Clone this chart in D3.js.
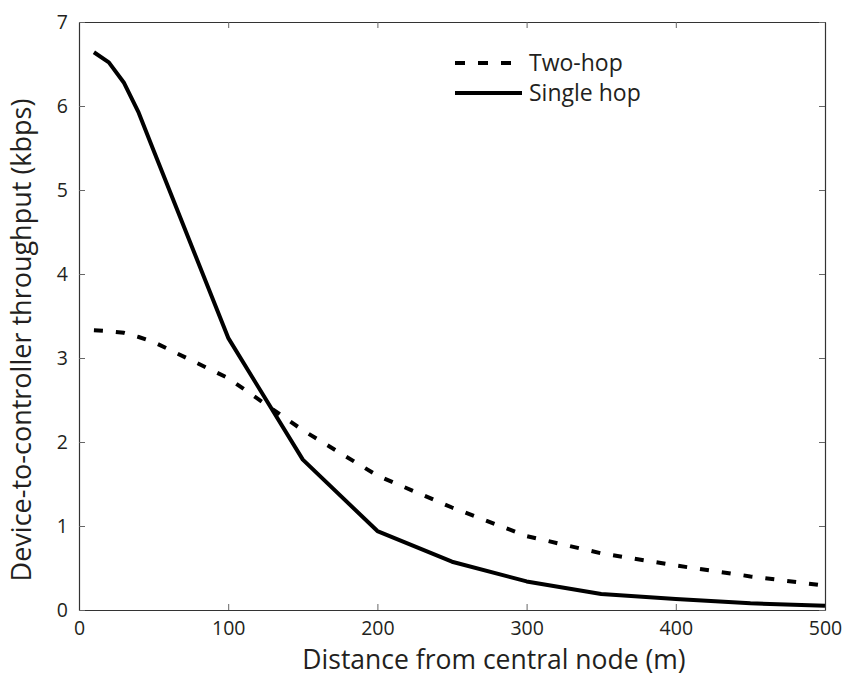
<!DOCTYPE html>
<html><head><meta charset="utf-8">
<script src="https://cdn.jsdelivr.net/npm/d3@7"></script>
<style>body{margin:0;background:#fff}svg{display:block}</style>
</head><body>
<script>
const distances = [10,20,30,40,50,100,150,200,250,300,350,400,450,500];
const twoHop    = [3.33,3.32,3.30,3.25,3.19,2.76,2.14,1.60,1.22,0.88,0.675,0.53,0.40,0.29];
const singleHop = [6.64,6.52,6.28,5.92,5.47,3.24,1.79,0.94,0.575,0.34,0.19,0.13,0.08,0.05];
const xTicks = [0,100,200,300,400,500];
const yTicks = [0,1,2,3,4,5,6,7];
const seriesNames = ["Two-hop","Single hop"];

const W=844,H=677;
const m={left:79,right:19,top:22,bottom:67};
const svg=d3.select("body").append("svg").attr("width",W).attr("height",H);
const x=d3.scaleLinear().domain([0,500]).range([m.left,W-m.right]);
const y=d3.scaleLinear().domain([0,7]).range([H-m.bottom,m.top]);
const font="'Open Sans', 'Noto Sans', sans-serif";
const txt="#231f20";

// axes
const tl=6;
const fmt=d3.format("d");
const gB=svg.append("g").attr("transform",`translate(0,${y(0)})`)
  .call(d3.axisBottom(x).tickValues(xTicks).tickFormat(fmt).tickSizeInner(-tl).tickSizeOuter(0).tickPadding(11));
const gT=svg.append("g").attr("transform",`translate(0,${y(7)})`)
  .call(d3.axisTop(x).tickValues(xTicks).tickSizeInner(-tl).tickSizeOuter(0).tickFormat(""));
const gL=svg.append("g").attr("transform",`translate(${x(0)},0)`)
  .call(d3.axisLeft(y).tickValues(yTicks).tickFormat(fmt).tickSizeInner(-tl).tickSizeOuter(0).tickPadding(11));
const gR=svg.append("g").attr("transform",`translate(${x(500)},0)`)
  .call(d3.axisRight(y).tickValues(yTicks).tickSizeInner(-tl).tickSizeOuter(0).tickFormat(""));
[gB,gT,gL,gR].forEach(g=>{
  g.select(".domain").attr("stroke","#333").attr("stroke-width",1.2);
  g.selectAll(".tick line").attr("stroke","#666").attr("stroke-width",1);
  g.selectAll(".tick text").attr("fill",txt).style("font-family",font).style("font-size","19.5px");
});
gL.selectAll(".tick text").attr("dy","0.35em");
gB.selectAll(".tick text").attr("dy","0.71em");

// lines
const line=d3.line().x((d,i)=>x(distances[i])).y(d=>y(d));
svg.append("path").datum(twoHop).attr("d",line).attr("fill","none")
  .attr("stroke","#000").attr("stroke-width",4).attr("stroke-dasharray","9,13");
svg.append("path").datum(singleHop).attr("d",line).attr("fill","none")
  .attr("stroke","#000").attr("stroke-width",4).attr("stroke-linejoin","round");

// legend
const lg=svg.append("g");
[0,1].forEach(i=>{
  const yy=63+i*30;
  lg.append("line").attr("x1",455).attr("x2",i===0?512:522).attr("y1",yy).attr("y2",yy)
    .attr("stroke","#000").attr("stroke-width",4)
    .attr("stroke-dasharray",i===0?"10,13":null);
  lg.append("text").attr("x",529).attr("y",yy).attr("dy","0.35em")
    .attr("fill",txt).style("font-family",font).style("font-size","23px").text(seriesNames[i]);
});

// axis titles
svg.append("text").attr("x",494).attr("y",660).attr("dy","0.35em")
  .attr("text-anchor","middle").attr("fill",txt).style("font-family",font).style("font-size","26.5px")
  .text("Distance from central node (m)");
svg.append("text").attr("transform",`translate(22,340) rotate(-90)`).attr("dy","0.35em")
  .attr("text-anchor","middle").attr("fill",txt).style("font-family",font).style("font-size","27px")
  .text("Device-to-controller throughput (kbps)");
</script>
</body></html>
